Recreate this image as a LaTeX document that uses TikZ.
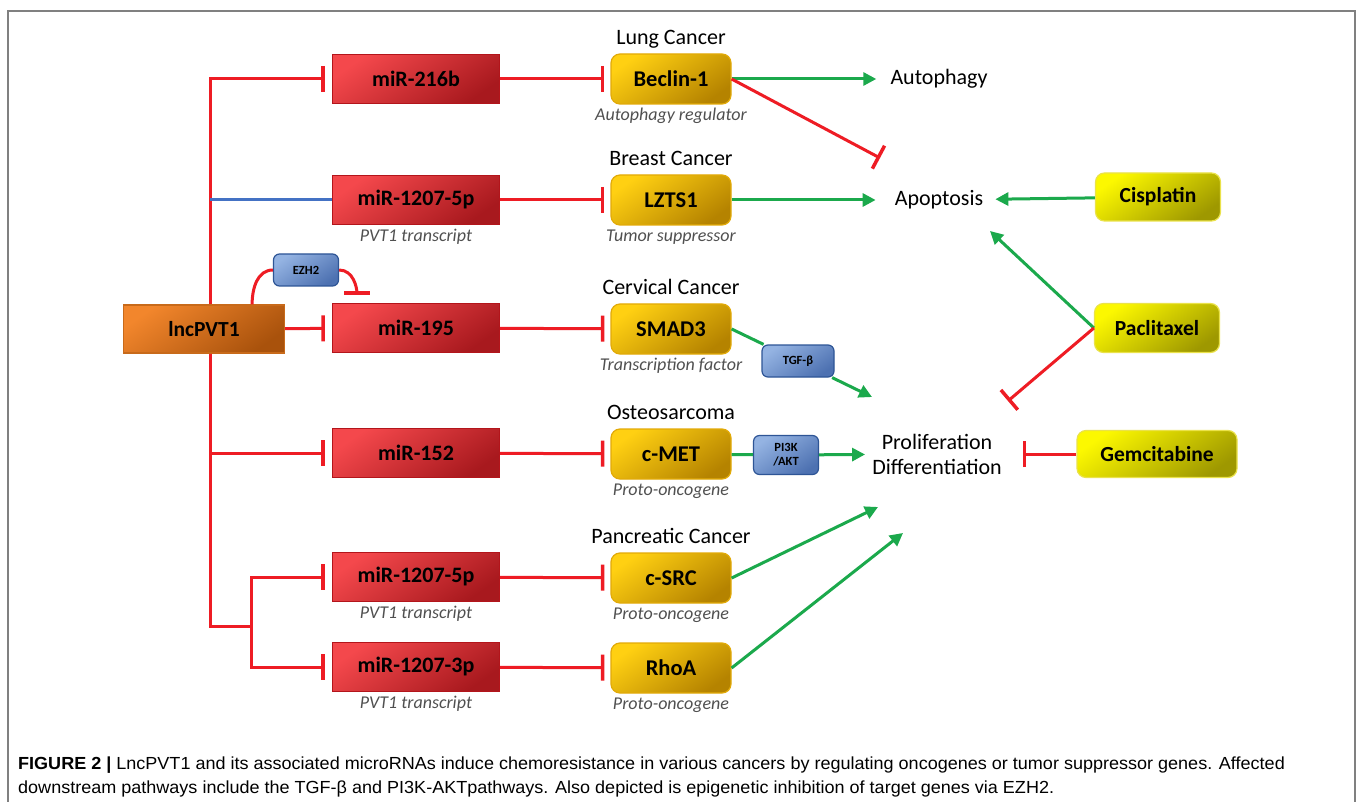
\documentclass[tikz,border=0pt]{standalone}
\usepackage{fontspec}
\setmainfont{Carlito}
\newfontfamily\capfont[FakeStretch=1.03]{Liberation Sans}
\usetikzlibrary{arrows.meta}
\usetikzlibrary{positioning}
\usetikzlibrary{shapes}

\definecolor{inhred}{HTML}{EE1C24}
\definecolor{actgreen}{HTML}{1BA94C}
\definecolor{linkblue}{HTML}{4472C4}
\definecolor{mirlight}{HTML}{F4484C}
\definecolor{mirdark}{HTML}{A8191E}
\definecolor{mirborder}{HTML}{B3151B}
\definecolor{genelight}{HTML}{FFD012}
\definecolor{genedark}{HTML}{B58300}
\definecolor{geneborder}{HTML}{E2AA08}
\definecolor{lnclight}{HTML}{F2862C}
\definecolor{lncdark}{HTML}{A9520C}
\definecolor{lncborder}{HTML}{C86A1A}
\definecolor{druglight}{HTML}{FCF800}
\definecolor{drugdark}{HTML}{9E9800}
\definecolor{drugborder}{HTML}{EAE24A}
\definecolor{smalllight}{HTML}{94B3E2}
\definecolor{smalldark}{HTML}{4D71B1}
\definecolor{smallborder}{HTML}{2E5596}
\definecolor{notegray}{HTML}{505050}

\begin{document}
\begin{tikzpicture}[x = 1pt, y = 1pt, font=\bfseries]
\tikzstyle{mirStyle} = [draw = mirborder, line width = 1.2pt, top color = mirlight, bottom color = mirdark, shading angle = 35, minimum width = 167pt, minimum height = 49pt, font = \fontsize{22}{24}\selectfont\bfseries]
\tikzstyle{geneStyle} = [draw = geneborder, line width = 1.2pt, rounded corners = 9pt, top color = genelight, bottom color = genedark, shading angle = 35, minimum width = 120pt, minimum height = 50pt, font = \fontsize{22.5}{24}\selectfont\bfseries]
\tikzstyle{lncStyle} = [draw = lncborder, line width = 1.2pt, top color = lnclight, bottom color = lncdark, shading angle = 35, minimum width = 161pt, minimum height = 48pt, font = \fontsize{21.5}{24}\selectfont\bfseries]
\tikzstyle{drugStyle} = [draw = drugborder, line width = 1.2pt, rounded corners = 9pt, top color = druglight, bottom color = drugdark, shading angle = 35, minimum width = 125pt, minimum height = 48pt, font = \fontsize{21.5}{24}\selectfont\bfseries]
\tikzstyle{smallStyle} = [draw = smallborder, line width = 1.2pt, rounded corners = 6pt, top color = smalllight, bottom color = smalldark, shading angle = 35, minimum height = 32pt, inner sep = 1pt, align = center, font = \fontsize{12.5}{14}\selectfont\bfseries]
\tikzstyle{headStyle} = [inner sep = 2pt, text height = 16pt, text depth = 5pt, font = \fontsize{22}{24}\selectfont\mdseries]
\tikzstyle{noteStyle} = [inner sep = 1pt, text height = 13.5pt, text depth = 4.5pt, text = notegray, font = \fontsize{18}{20}\selectfont\mdseries\itshape]
\tikzstyle{outStyle} = [inner sep = 2pt, align = center, font = \fontsize{22}{25}\selectfont\mdseries]
\tikzstyle{actEdge} = [draw = actgreen, line width = 3pt, -{Triangle[length = 13pt, width = 13pt]}]
\tikzstyle{inhEdge} = [draw = inhred, line width = 3pt, -{Bar[width = 26pt, line width = 3.5pt]}]
\tikzstyle{redEdge} = [draw = inhred, line width = 3pt]

\useasboundingbox (0,0) rectangle (1360,-802);
\fill[white] (0,0) rectangle (1360,-802);
\draw[draw = gray, line width = 1.5pt] (8,-11) rectangle (1355,-830);

% left column
\node[lncStyle] (lnc) at (204,-329) {lncPVT1};
\node[mirStyle] (m216) at (416,-79) {miR-216b};
\node[mirStyle] (m1207a) at (416,-200) {miR-1207-5p};
\node[mirStyle] (m195) at (416,-328) {miR-195};
\node[mirStyle] (m152) at (416,-453) {miR-152};
\node[mirStyle] (m1207b) at (416,-577) {miR-1207-5p};
\node[mirStyle] (m1207c) at (416,-667) {miR-1207-3p};
\node[noteStyle, below = 2pt of m1207a] (m1207aN) {PVT1 transcript};
\node[noteStyle, below = 2pt of m1207b] (m1207bN) {PVT1 transcript};
\node[noteStyle, below = 2pt of m1207c] (m1207cN) {PVT1 transcript};
\node[smallStyle, minimum width = 65pt] (ezh) at (306,-270) {EZH2};

% genes
\node[geneStyle] (becl) at (671,-79) {Beclin-1};
\node[geneStyle] (lzts) at (671,-200) {LZTS1};
\node[geneStyle] (smad) at (671,-329) {SMAD3};
\node[geneStyle] (cmet) at (671,-454) {c-MET};
\node[geneStyle] (csrc) at (671,-578) {c-SRC};
\node[geneStyle] (rhoa) at (671,-668) {RhoA};
\node[headStyle, above = 2pt of becl] (beclH) {Lung Cancer};
\node[headStyle, above = 2pt of lzts] (lztsH) {Breast Cancer};
\node[headStyle, above = 2pt of smad] (smadH) {Cervical Cancer};
\node[headStyle, above = 2pt of cmet] (cmetH) {Osteosarcoma};
\node[headStyle, above = 2pt of csrc] (csrcH) {Pancreatic Cancer};
\node[noteStyle, below = 1pt of becl] (beclN) {Autophagy regulator};
\node[noteStyle, below = 1pt of lzts] (lztsN) {Tumor suppressor};
\node[noteStyle, below = 1pt of smad] (smadN) {Transcription factor};
\node[noteStyle, below = 1pt of cmet] (cmetN) {Proto-oncogene};
\node[noteStyle, below = 1pt of csrc] (csrcN) {Proto-oncogene};
\node[noteStyle, below = 1pt of rhoa] (rhoaN) {Proto-oncogene};
\node[smallStyle, minimum width = 72pt] (tgf) at (798,-361) {TGF-β};
\node[smallStyle, minimum width = 65pt, minimum height = 39pt] (pi3k) at (786,-455) {PI3K\\/AKT};

% outcomes and drugs
\node[outStyle] (autoph) at (939,-79) {Autophagy};
\node[outStyle] (apop) at (939,-200) {Apoptosis};
\node[outStyle] (prolif) at (937,-454) {Proliferation\\Differentiation};
\node[drugStyle] (cisp) at (1158,-197) {Cisplatin};
\node[drugStyle, minimum height = 49pt] (pacl) at (1157,-328) {Paclitaxel};
\node[drugStyle, minimum width = 160pt, minimum height = 47pt] (gemc) at (1157,-454) {Gemcitabine};

\coordinate (j2) at ([xshift = 6pt]lnc.north |- m1207a);
\coordinate (sub) at (251,-626);
\coordinate (beclEnd) at (880,-158);
\coordinate (tgfEnd) at (872,-397);
\coordinate (paclUp) at (990,-231);
\coordinate (paclDown) at (1008,-401);
\coordinate (csrcEnd) at (878,-507);
\coordinate (rhoaEnd) at (903,-533);

% lncPVT1 branches
\draw[inhEdge, shorten > = 7pt] ([xshift = 6pt]lnc.north) |- (m216);
\draw[draw = linkblue, line width = 3pt] (j2) -- (m1207a);
\draw[inhEdge, shorten > = 7pt] (lnc) -- (m195);
\draw[inhEdge, shorten > = 7pt] ([xshift = 6pt]lnc.south) |- (m152);
\draw[redEdge] ([xshift = 6pt]lnc.south) |- (sub);
\draw[inhEdge, shorten > = 7pt] (sub) |- (m1207b);
\draw[inhEdge, shorten > = 7pt] (sub) |- (m1207c);
\draw[redEdge] ([xshift = -33pt]lnc.north east) to[out = 90, in = 180] (ezh.west);
\draw[inhEdge, shorten > = 8pt] (ezh.east) to[out = 0, in = 90] ([xshift = 25pt]m195.north west);

% miRNA -> gene
\draw[inhEdge, shorten > = 6pt] (m216) -- (becl);
\draw[inhEdge, shorten > = 6pt] (m1207a) -- (lzts);
\draw[inhEdge, shorten > = 6pt] (m195) -- (smad);
\draw[inhEdge, shorten > = 6pt] (m152) -- (cmet);
\draw[inhEdge, shorten > = 6pt] (m1207b) -- (csrc);
\draw[inhEdge, shorten > = 6pt] (m1207c) -- (rhoa);

% gene -> outcome
\draw[actEdge, shorten > = 12pt] (becl) -- (autoph);
\draw[inhEdge] (becl.east) -- (beclEnd);
\draw[actEdge, shorten > = 17pt] (lzts) -- (apop);
\draw[draw = actgreen, line width = 3pt] (smad.east) -- (tgf);
\draw[actEdge] (tgf) -- (tgfEnd);
\draw[draw = actgreen, line width = 3pt] (cmet) -- (pi3k);
\draw[actEdge, shorten > = 5pt] (pi3k) -- (prolif);
\draw[actEdge] (csrc.east) -- (csrcEnd);
\draw[actEdge] (rhoa.east) -- (rhoaEnd);

% drugs
\draw[actEdge, shorten > = 10pt] (cisp) -- (apop);
\draw[actEdge] (pacl.west) -- (paclUp);
\draw[inhEdge] (pacl.west) -- (paclDown);
\draw[inhEdge, shorten > = 19pt] (gemc) -- (prolif);

% caption
\node[anchor = base west, inner sep = 0pt, font = \capfont\fontsize{17.5}{20}\selectfont] (cap1) at (18,-769) {\textbf{FIGURE 2 |} LncPVT1 and its associated microRNAs induce chemoresistance in various cancers by regulating oncogenes or tumor suppressor genes. Affected};
\node[anchor = base west, inner sep = 0pt, font = \capfont\fontsize{17.5}{20}\selectfont] (cap2) at (18,-793) {downstream pathways include the TGF-β and PI3K-AKTpathways. Also depicted is epigenetic inhibition of target genes via EZH2.};
\end{tikzpicture}
\end{document}
